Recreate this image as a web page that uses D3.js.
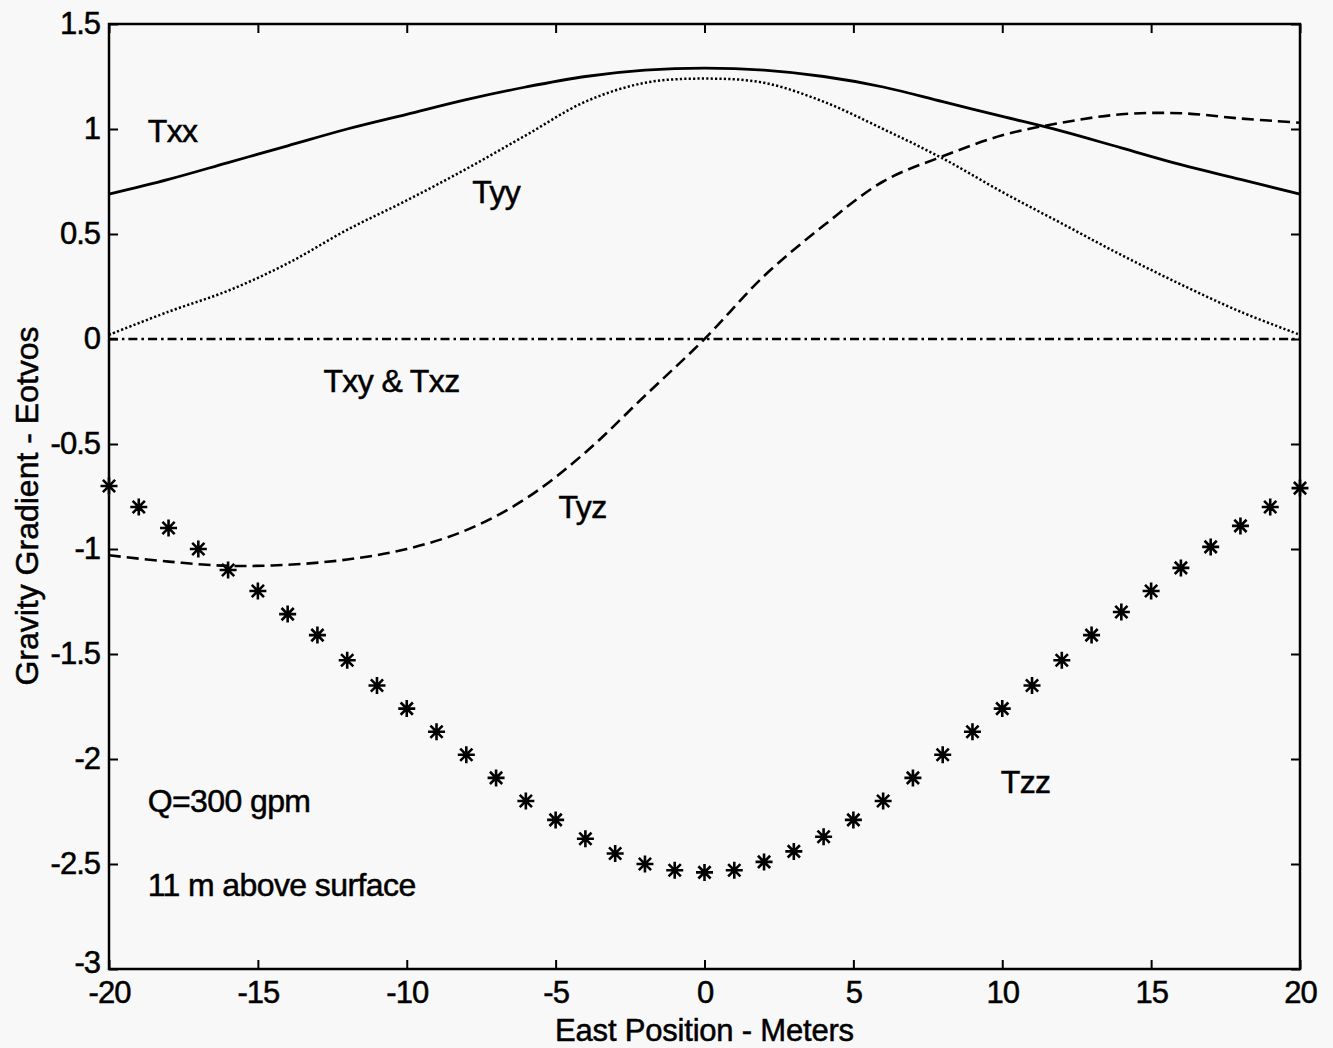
<!DOCTYPE html>
<html>
<head>
<meta charset="utf-8">
<script src="https://cdn.jsdelivr.net/npm/d3@7"></script>
<style>
  html, body { margin: 0; padding: 0; background: #f8f8f8; }
  svg { display: block; font-family: "Liberation Sans", Arial, sans-serif; }
  .axis path { display: none; }
  .axis line { stroke: #000; stroke-width: 2; }
  .axis text { font-size: 31px; fill: #000; stroke: #000; stroke-width: 0.5; font-family: "Liberation Sans", Arial, sans-serif; }
  text { stroke: #000; stroke-width: 0.5; }
</style>
</head>
<body>
<svg id="chart"></svg>
<script>
// East position (m), sampled every 2 m for the continuous curves
const xCurve = [-20, -18, -16, -14, -12, -10, -8, -6, -4, -2, 0, 2, 4, 6, 8, 10, 12, 14, 16, 18, 20];

const txx = [0.69, 0.76, 0.84, 0.92, 1.0, 1.07, 1.14, 1.2, 1.25, 1.28, 1.29, 1.28, 1.25, 1.2, 1.13, 1.06, 0.99, 0.91, 0.83, 0.76, 0.69];
const tyy = [0.02, 0.13, 0.23, 0.36, 0.52, 0.66, 0.81, 0.97, 1.13, 1.22, 1.24, 1.22, 1.13, 1.0, 0.86, 0.7, 0.55, 0.4, 0.26, 0.13, 0.02];
const tyz = [-1.03, -1.06, -1.08, -1.075, -1.05, -1.0, -0.91, -0.76, -0.54, -0.27, 0.0, 0.3, 0.54, 0.75, 0.87, 0.97, 1.03, 1.07, 1.075, 1.05, 1.03];
const txy = [0, 0, 0, 0, 0, 0, 0, 0, 0, 0, 0, 0, 0, 0, 0, 0, 0, 0, 0, 0, 0];

// Tzz is plotted with markers, one per metre
const xTzz = d3.range(-20, 21);
const tzz = [-0.7, -0.8, -0.9, -1.0, -1.1, -1.2, -1.31, -1.41, -1.53, -1.65, -1.76, -1.87, -1.98, -2.09, -2.2, -2.29, -2.38, -2.45, -2.5, -2.53, -2.54,
             -2.53, -2.49, -2.44, -2.37, -2.29, -2.2, -2.09, -1.98, -1.87, -1.76, -1.65, -1.53, -1.41, -1.3, -1.2, -1.09, -0.99, -0.89, -0.8, -0.71];

const xTicks = [-20, -15, -10, -5, 0, 5, 10, 15, 20];
const yTicks = [1.5, 1, 0.5, 0, -0.5, -1, -1.5, -2, -2.5, -3];

// Text annotations placed in data coordinates
const annotations = [
  { text: 'Txx', x: -18.7, y: 0.94 },
  { text: 'Tyy', x: -7.8, y: 0.65 },
  { text: 'Txy & Txz', x: -12.8, y: -0.25 },
  { text: 'Tyz', x: -4.9, y: -0.85 },
  { text: 'Tzz', x: 9.95, y: -2.16 },
  { text: 'Q=300 gpm', x: -18.7, y: -2.25 },
  { text: '11 m above surface', x: -18.7, y: -2.65 }
];

const width = 1333;
const height = 1048;
const margin = { top: 24, right: 33, bottom: 79, left: 109 };
const innerW = width - margin.left - margin.right;
const innerH = height - margin.top - margin.bottom;

const svg = d3.select('#chart').attr('width', width).attr('height', height);
const g = svg.append('g').attr('transform', `translate(${margin.left},${margin.top})`);

const x = d3.scaleLinear().domain([-20, 20]).range([0, innerW]);
const y = d3.scaleLinear().domain([-3, 1.5]).range([innerH, 0]);

const fmt = (d) => String(d);

// Axes with inward ticks on all four sides
g.append('g')
  .attr('class', 'axis')
  .attr('transform', `translate(0,${innerH})`)
  .call(d3.axisBottom(x).tickValues(xTicks).tickFormat(fmt).tickSize(-9).tickPadding(12));

g.append('g')
  .attr('class', 'axis')
  .call(d3.axisTop(x).tickValues(xTicks).tickFormat('').tickSize(-9));

const yAxis = g.append('g')
  .attr('class', 'axis')
  .call(d3.axisLeft(y).tickValues(yTicks).tickFormat(fmt).tickSize(-9).tickPadding(9));

// the -3 label sits just above the -20 label, as in the original
yAxis.selectAll('.tick text').filter((d) => d === -3).attr('dy', '0.1em');

g.append('g')
  .attr('class', 'axis')
  .attr('transform', `translate(${innerW},0)`)
  .call(d3.axisRight(y).tickValues(yTicks).tickFormat('').tickSize(-9));

g.selectAll('.axis text').attr('letter-spacing', '-1');

// Frame
g.append('rect')
  .attr('width', innerW)
  .attr('height', innerH)
  .attr('fill', 'none')
  .attr('stroke', '#000')
  .attr('stroke-width', 2.5);

const line = d3.line()
  .x((d) => x(d[0]))
  .y((d) => y(d[1]))
  .curve(d3.curveCatmullRom.alpha(0.5));

const series = [
  { values: txx, dash: null, width: 2.8 },
  { values: tyy, dash: '2.2,2.2', width: 2.5 },
  { values: tyz, dash: '12,6', width: 2.6 },
  { values: txy, dash: '9,4,2.5,4', width: 2.6 }
];

series.forEach((s) => {
  g.append('path')
    .datum(xCurve.map((xv, i) => [xv, s.values[i]]))
    .attr('d', line)
    .attr('fill', 'none')
    .attr('stroke', '#000')
    .attr('stroke-width', s.width)
    .attr('stroke-dasharray', s.dash);
});

// Tzz asterisk markers (+ and x combined)
const r = 8.5;
const markerPath = `M${-r},0H${r}M0,${-r}V${r}` +
  `M${-r * 0.72},${-r * 0.72}L${r * 0.72},${r * 0.72}` +
  `M${-r * 0.72},${r * 0.72}L${r * 0.72},${-r * 0.72}`;

g.selectAll('path.tzz')
  .data(xTzz.map((xv, i) => [xv, tzz[i]]))
  .enter()
  .append('path')
  .attr('class', 'tzz')
  .attr('transform', (d) => `translate(${x(d[0])},${y(d[1])})`)
  .attr('d', markerPath)
  .attr('stroke', '#000')
  .attr('stroke-width', 2.6)
  .attr('fill', 'none');

// Annotations
g.selectAll('text.note')
  .data(annotations)
  .enter()
  .append('text')
  .attr('class', 'note')
  .attr('x', (d) => x(d.x))
  .attr('y', (d) => y(d.y))
  .attr('font-size', 32)
  .attr('letter-spacing', '-0.6')
  .attr('fill', '#000')
  .text((d) => d.text);

// Axis titles
svg.append('text')
  .attr('x', margin.left + innerW / 2)
  .attr('y', 1041)
  .attr('text-anchor', 'middle')
  .attr('font-size', 31)
  .attr('letter-spacing', '-0.2')
  .text('East Position - Meters');

svg.append('text')
  .attr('transform', 'translate(38,506) rotate(-90)')
  .attr('text-anchor', 'middle')
  .attr('font-size', 32)
  .attr('letter-spacing', '0')
  .text('Gravity Gradient - Eotvos');
</script>
</body>
</html>
